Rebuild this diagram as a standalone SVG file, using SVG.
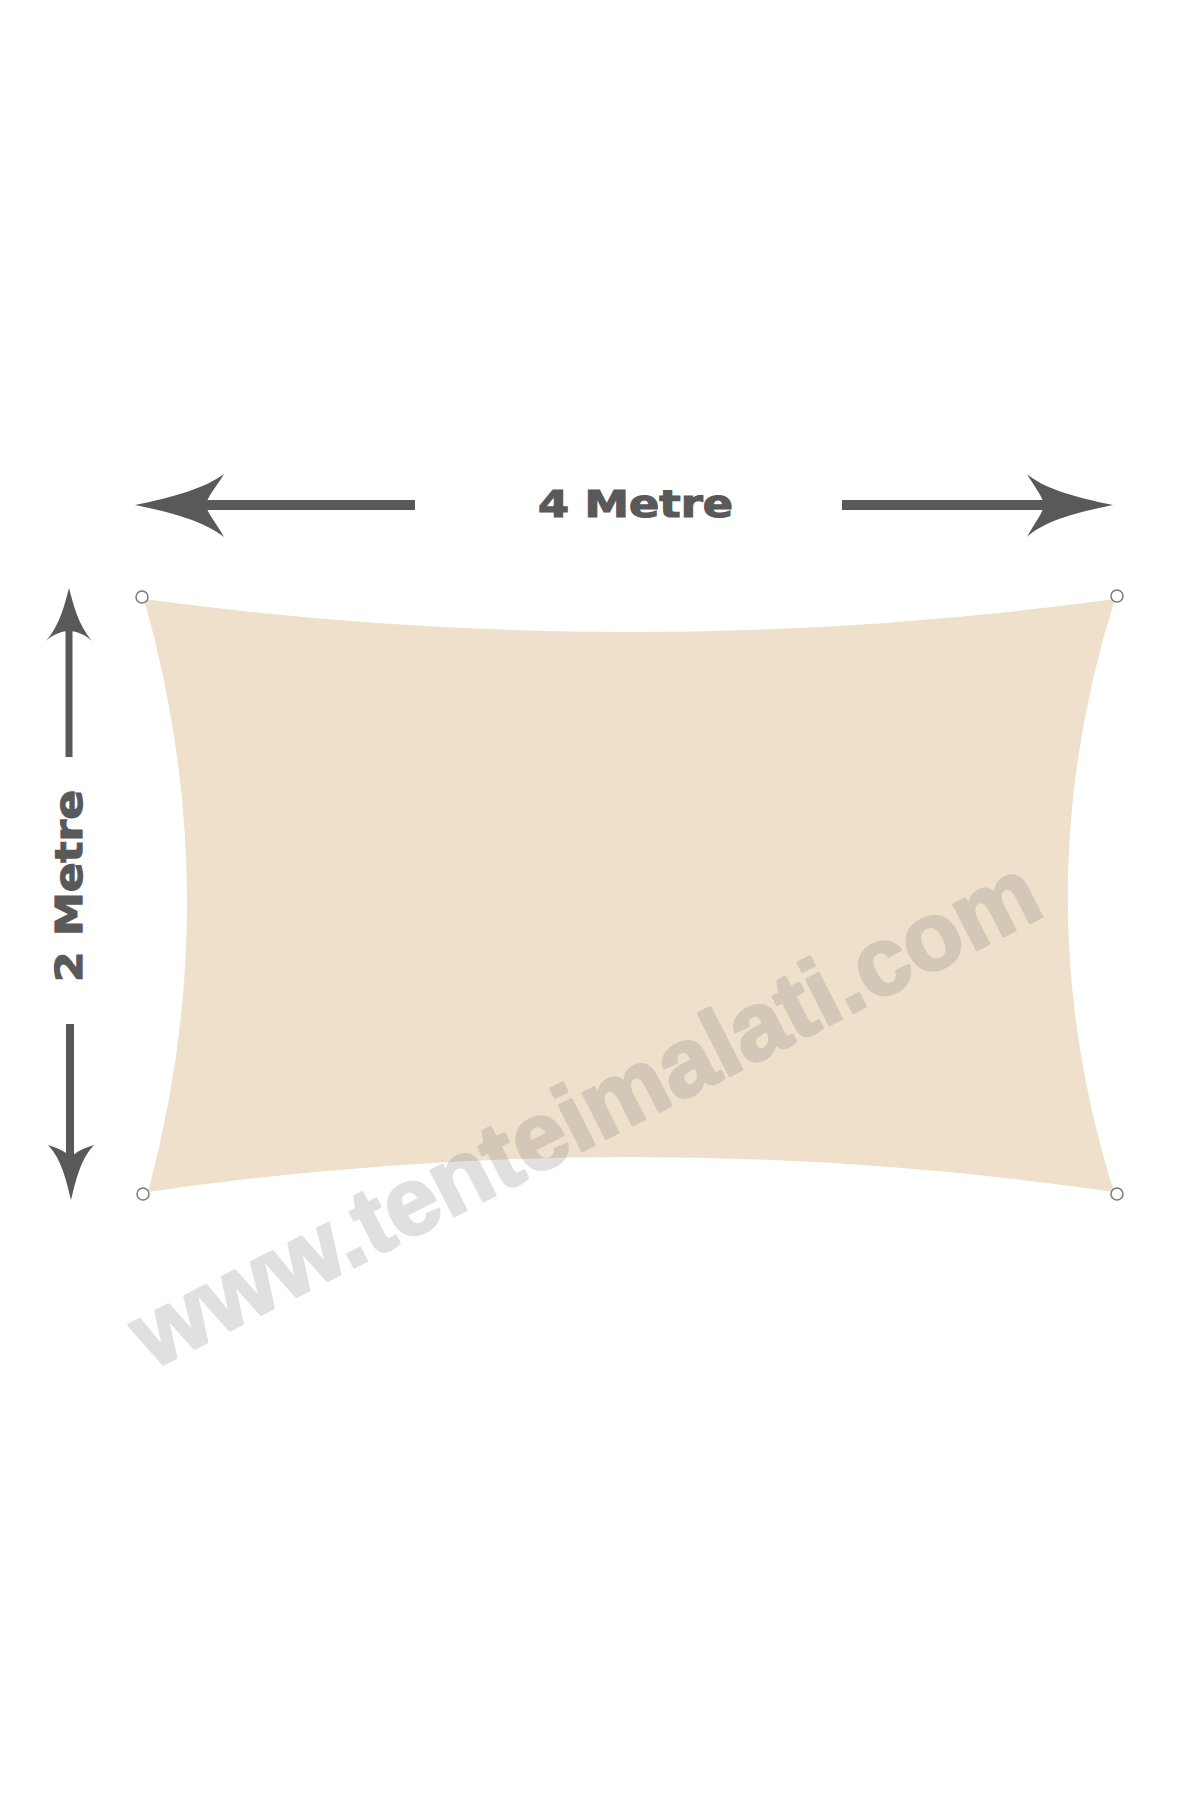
<svg xmlns="http://www.w3.org/2000/svg" width="1200" height="1800" viewBox="0 0 1200 1800">
<style>
.arrow{fill:#595959}
.dim{font-family:"DejaVu Sans","Liberation Sans",sans-serif;font-weight:bold;font-size:37px;fill:#595959;stroke:#595959;stroke-width:1.2}
.ring{fill:#ffffff;stroke:#7a7a7a;stroke-width:1.5}
.wm{font-family:"Liberation Sans",Arial,sans-serif;font-weight:bold;font-size:96px;fill:#7f7f7f;stroke:#7f7f7f;stroke-width:3;stroke-linejoin:round}
</style>
<rect width="1200" height="1800" fill="#ffffff"/>
<g id="sail">
<path d="M144,599 Q630,665 1115,599 Q1021,896 1114,1192 Q631,1122 148,1192 Q228,895 144,599 Z" fill="#EEE0CB"/>
</g>
<g id="grommets">
<circle class="ring" cx="142" cy="597" r="6"/>
<circle class="ring" cx="1117" cy="596" r="6"/>
<circle class="ring" cx="143" cy="1194" r="6"/>
<circle class="ring" cx="1117" cy="1194" r="6"/>
</g>
<g id="connectors">
<g id="width-arrow-left">
<rect class="arrow" x="205" y="500" width="210" height="10"/>
<path class="arrow" d="M135,505 C175,497 205,488 224,474 C217,486 207,497 206,505 C207,513 217,524 224,537 C205,522 175,513 135,505 Z"/>
</g>
<g id="width-arrow-right">
<rect class="arrow" x="842" y="500" width="204" height="10"/>
<path class="arrow" d="M1113,505 C1073,497 1043,488 1027,474 C1034,486 1043,497 1044,505 C1043,513 1034,524 1027,537 C1043,522 1073,513 1113,505 Z"/>
</g>
<g id="height-arrow-up">
<rect class="arrow" x="65.5" y="630" width="7" height="127"/>
<path class="arrow" d="M69,588 C73,603 78,625 92,641 C85,634 75,631 69,631 C63,631 53,634 46,641 C60,625 65,603 69,588 Z"/>
</g>
<g id="height-arrow-down">
<rect class="arrow" x="66" y="1024" width="8" height="134"/>
<path class="arrow" d="M71,1200 C66,1180 62,1160 48,1145 C58,1148 66,1152 71,1157 C76,1152 84,1148 94,1145 C80,1160 76,1180 71,1200 Z"/>
</g>
</g>
<g id="label-width">
<text class="dim" x="538" y="517" textLength="195" lengthAdjust="spacingAndGlyphs">4 Metre</text>
</g>
<g id="label-height">
<text class="dim" transform="translate(82,982) rotate(-90)" x="0" y="0" textLength="192" lengthAdjust="spacingAndGlyphs">2 Metre</text>
</g>
<g id="watermark" opacity="0.24">
<text class="wm" transform="translate(152,1370) rotate(-27)" x="0" y="0">www.tenteimalati.com</text>
</g>
</svg>
